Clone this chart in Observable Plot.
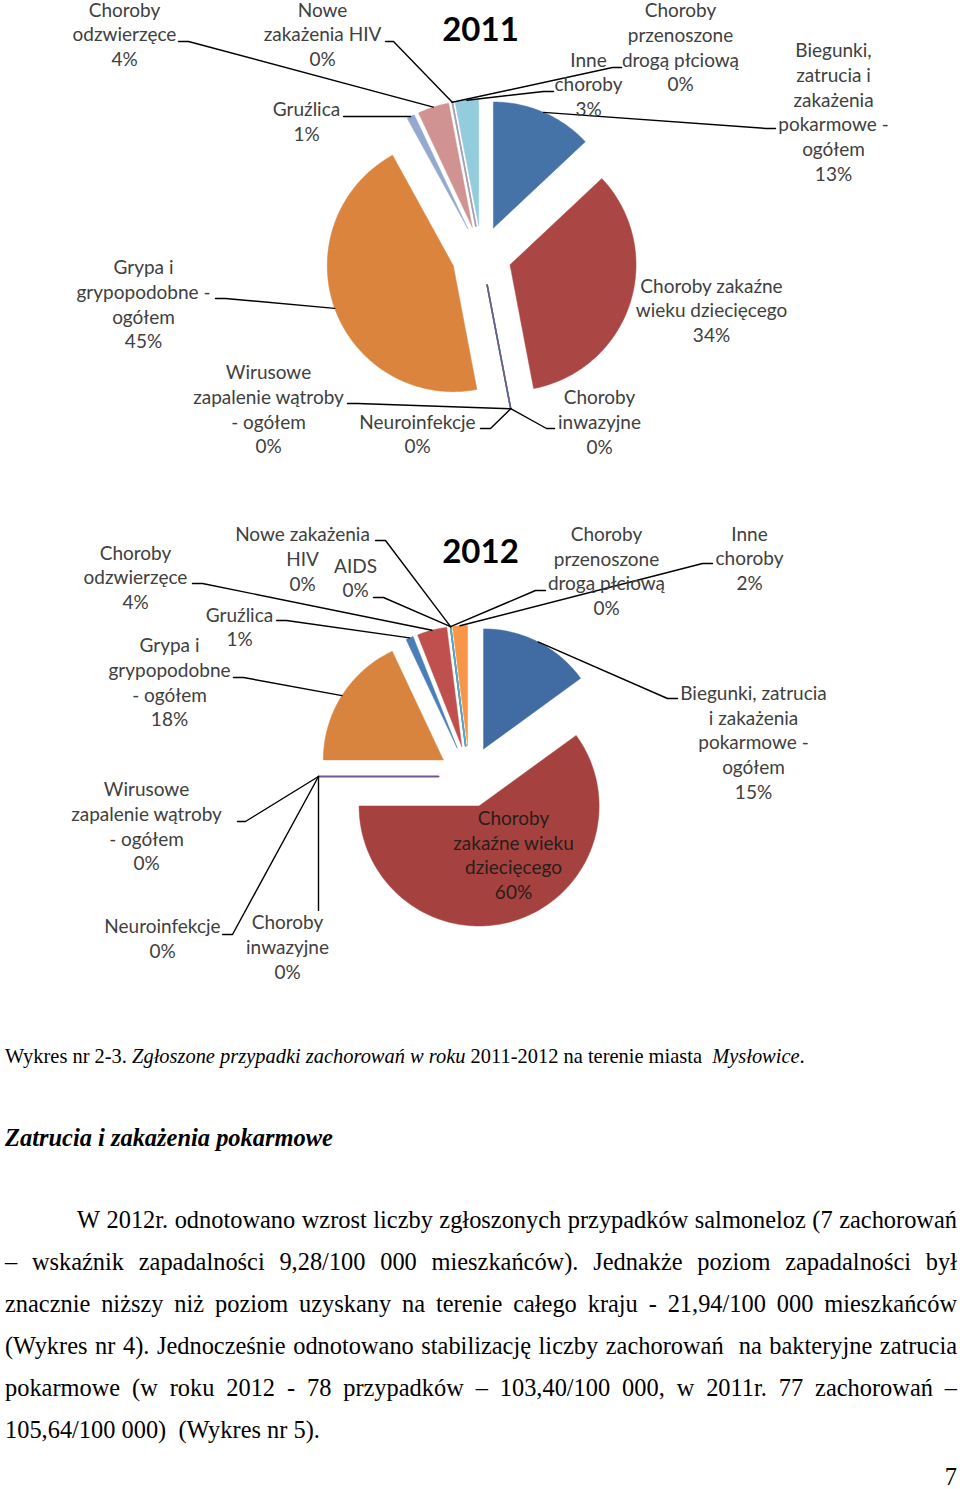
<!DOCTYPE html>
<html><head><meta charset="utf-8">
<script src="https://cdn.jsdelivr.net/npm/d3@7"></script>
<script src="https://cdn.jsdelivr.net/npm/@observablehq/plot@0.6"></script>
<style>
html,body{margin:0;padding:0;background:#fff;overflow:hidden;}
#page{position:relative;width:960px;height:1489px;}
#page svg{position:absolute;left:0;top:0;}
</style></head><body><div id="page"></div>
<script>
// ---------------- DATA ----------------
const years = ["2011", "2012"];
const categories2011 = [
  "Biegunki, zatrucia i zakażenia pokarmowe - ogółem",
  "Choroby zakaźne wieku dziecięcego",
  "Choroby inwazyjne",
  "Neuroinfekcje",
  "Wirusowe zapalenie wątroby - ogółem",
  "Grypa i grypopodobne - ogółem",
  "Gruźlica",
  "Choroby odzwierzęce",
  "Nowe zakażenia HIV",
  "Choroby przenoszone drogą płciową",
  "Inne choroby"
];
const values2011 = [13, 34, 0, 0, 0, 45, 1, 4, 0, 0, 3];
const categories2012 = [
  "Biegunki, zatrucia i zakażenia pokarmowe - ogółem",
  "Choroby zakaźne wieku dziecięcego",
  "Choroby inwazyjne",
  "Neuroinfekcje",
  "Wirusowe zapalenie wątroby - ogółem",
  "Grypa i grypopodobne - ogółem",
  "Gruźlica",
  "Choroby odzwierzęce",
  "Nowe zakażenia HIV",
  "AIDS",
  "Choroby przenoszone drogą płciową",
  "Inne choroby"
];
const values2012 = [15, 60, 0, 0, 0, 18, 1, 4, 0, 0, 0, 2];

const captionParts = [
  ["Wykres nr 2-3. ", "normal"],
  ["Zgłoszone przypadki zachorowań w roku", "italic"],
  [" 2011-2012 na terenie miasta  ", "normal"],
  ["Mysłowice", "italic"],
  [".", "normal"]
];
const headingText = "Zatrucia i zakażenia pokarmowe";
const paragraphLines = [
  "W 2012r. odnotowano wzrost liczby zgłoszonych przypadków salmoneloz (7 zachorowań",
  "– wskaźnik zapadalności 9,28/100 000 mieszkańców). Jednakże poziom zapadalności był",
  "znacznie niższy niż poziom uzyskany na terenie całego kraju - 21,94/100 000 mieszkańców",
  "(Wykres nr 4). Jednocześnie odnotowano stabilizację liczby zachorowań  na bakteryjne zatrucia",
  "pokarmowe (w roku 2012 - 78 przypadków – 103,40/100 000, w 2011r. 77 zachorowań –",
  "105,64/100 000)  (Wykres nr 5)."
];
const pageNumber = "7";

// ---------------- LAYOUT / STYLE ----------------
const palette2011 = ["#4572A7","#AA4643","#89A54E","#71588F","#4198AF","#DB843D","#93A9CF","#D19392","#B9CD96","#A99BBD","#93CDDD"];
const palette2012 = ["#416CA3","#A5423F","#89A54E","#71588F","#4198AF","#D8843E","#4A7EBB","#C0504D","#9BBB59","#8064A2","#4BACC6","#F79646"];
const geom = {
  "2011": {cx: 481, cy: 255, r: 126, explode: 30, title: [480, 30]},
  "2012": {cx: 469, cy: 776, r: 120, explode: 31, title: [480, 552]}
};
const labelWrap2011 = [
  ["Biegunki,","zatrucia i","zakażenia","pokarmowe -","ogółem"],
  ["Choroby zakaźne","wieku dziecięcego"],
  ["Choroby","inwazyjne"],
  ["Neuroinfekcje"],
  ["Wirusowe","zapalenie wątroby","- ogółem"],
  ["Grypa i","grypopodobne -","ogółem"],
  ["Gruźlica"],
  ["Choroby","odzwierzęce"],
  ["Nowe","zakażenia HIV"],
  ["Choroby","przenoszone","drogą płciową"],
  ["Inne","choroby"]
];
const labelAt2011 = [[833,112.5],[711,311],[599,422.5],[417,434.5],[268,410],[143,305],[306,122],[124,35],[322,35],[680,48],[588,85]];
const leader2011 = [[[775,128],[766,128]], null, [[554,428],[546,428]], [[480,428],[490,428]], [[347,403],[357,403]], [[215,298],[225,298]], [[343,116],[353,116]], [[178,41],[188,41]], [[385,41],[393,41]], [[621,67],[612,67]], [[553,91],[543,91]]];
const labelWrap2012 = [
  ["Biegunki, zatrucia","i zakażenia","pokarmowe -","ogółem"],
  ["Choroby","zakaźne wieku","dziecięcego"],
  ["Choroby","inwazyjne"],
  ["Neuroinfekcje"],
  ["Wirusowe","zapalenie wątroby","- ogółem"],
  ["Grypa i","grypopodobne","- ogółem"],
  ["Gruźlica"],
  ["Choroby","odzwierzęce"],
  ["Nowe zakażenia","HIV"],
  ["AIDS"],
  ["Choroby","przenoszone","drogą płciową"],
  ["Inne","choroby"]
];
const labelAt2012 = [[753,743],[513,855.5],[287,947.5],[162,939],[146,827],[169,683],[239,627.5],[135,578],[302,559.5],[355,578.5],[606,571.5],[749,559]];
const leader2012 = [[[677,698],[667,698]], null, [[318,910]], [[222,934],[232,934]], [[237,821],[245,821]], [[233,677],[243,677]], [[276,620],[286,620]], [[192,583],[202,583]], [[375,540],[385,540]], [[373,597],[383,597]], [[545,590],[535,590]], [[712,563],[702,563]]];

const pies = [
  {year: "2011", cats: categories2011, vals: values2011, pal: palette2011, wrap: labelWrap2011, at: labelAt2011, lead: leader2011, inside: -1},
  {year: "2012", cats: categories2012, vals: values2012, pal: palette2012, wrap: labelWrap2012, at: labelAt2012, lead: leader2012, inside: 1}
];

// ---------------- GEOMETRY ----------------
const sliceRows = [], zeroRows = [], zeroTopRows = [], leaderRows = [], labelRows = [], titleRows = [];
for (const p of pies) {
  const g = geom[p.year];
  const total = d3.sum(p.vals);
  let acc = 0;
  p.vals.forEach((v, i) => {
    const a0 = acc / total * 2 * Math.PI; acc += v;
    const a1 = acc / total * 2 * Math.PI;
    const mid = (a0 + a1) / 2;
    const ax = g.cx + g.explode * Math.sin(mid), ay = g.cy - g.explode * Math.cos(mid);
    const pt = a => [ax + g.r * Math.sin(a), ay - g.r * Math.cos(a)];
    const key = p.year + "-" + i;
    const color = p.pal[i];
    if (v === 0) {
      const target = p.cats[i] === "Neuroinfekcje" ? zeroTopRows : zeroRows;
      for (const q of [[ax, ay], pt(a0)]) target.push({key, x: q[0], y: q[1], color});
    } else {
      const n = Math.max(2, Math.ceil((a1 - a0) / (Math.PI / 180)));
      const pts = [[ax, ay]];
      for (let k = 0; k <= n; k++) pts.push(pt(a0 + (a1 - a0) * k / n));
      pts.push([ax, ay]);
      for (const q of pts) sliceRows.push({key, x: q[0], y: q[1], color});
    }
    const outer = pt(mid);
    const lead = p.lead[i];
    if (lead) {
      const path = [outer, ...lead.slice().reverse()];
      for (const q of path) leaderRows.push({key, x: q[0], y: q[1]});
    }
    labelRows.push({
      x: p.at[i][0], y: p.at[i][1],
      text: [...p.wrap[i], v + "%"].join("\n"),
      fill: i === p.inside ? "#2c1c1c" : "#404040"
    });
  });
  titleRows.push({x: g.title[0], y: g.title[1], text: p.year});
}

const chart = Plot.plot({
  width: 960, height: 1000, margin: 0,
  x: {domain: [0, 960], range: [0, 960], axis: null},
  y: {domain: [0, 1000], range: [0, 1000], axis: null},
  color: {type: "identity"},
  style: {background: "transparent", overflow: "visible"},
  marks: [
    Plot.line(sliceRows, {x: "x", y: "y", z: "key", fill: "color", stroke: "color", strokeWidth: 0.5}),
    Plot.line(zeroRows, {x: "x", y: "y", z: "key", stroke: "color", strokeWidth: 1.6}),
    Plot.line(zeroTopRows, {x: "x", y: "y", z: "key", stroke: "color", strokeWidth: 1.6}),
    Plot.line(leaderRows, {x: "x", y: "y", z: "key", stroke: "#000", strokeWidth: 1.4}),
    Plot.text(labelRows, {x: "x", y: "y", dy: -2, text: "text", fill: "fill", fontSize: 19, fontFamily: "Lato", lineHeight: 1.3, textAnchor: "middle", lineAnchor: "middle"}),
    Plot.text(titleRows, {x: "x", y: "y", text: "text", fill: "#000", fontSize: 33, fontWeight: "bold", fontFamily: "Lato"})
  ]
});
document.getElementById("page").appendChild(chart);

// ---------------- DOCUMENT TEXT ----------------
const ctx = document.createElement("canvas").getContext("2d");
const SERIF = '"Liberation Serif", "Times New Roman", serif';
function tw(text, size, style = "normal", weight = "normal") {
  ctx.font = `${style} ${weight} ${size}px ${SERIF}`;
  return ctx.measureText(text).width;
}
const svg = d3.select("#page").append("svg")
  .attr("width", 960).attr("height", 1489)
  .attr("font-family", SERIF).style("pointer-events", "none");

// caption
{
  const base = 20;
  const w = d3.sum(captionParts, d => tw(d[0], base, d[1]));
  const size = base * 800 / w;
  const t = svg.append("text").attr("x", 5).attr("y", 1063).attr("font-size", size)
    .attr("fill", "#000").style("white-space", "pre");
  for (const [s, st] of captionParts) t.append("tspan").attr("font-style", st).text(s);
}
// heading
{
  const base = 24;
  const w = tw(headingText, base, "italic", "bold");
  const size = base * 328 / w;
  svg.append("text").attr("x", 5).attr("y", 1146).attr("font-size", size)
    .attr("font-style", "italic").attr("font-weight", "bold").attr("fill", "#000").text(headingText);
}
// paragraph
{
  const last = paragraphLines[paragraphLines.length - 1];
  let size = 24 * 315 / tw(last, 24);
  size = Math.max(20, Math.min(26, size));
  const baselines = [1228, 1270, 1312, 1354, 1396, 1438];
  paragraphLines.forEach((line, li) => {
    const y = baselines[li];
    const x0 = li === 0 ? 77 : 5, x1 = 957;
    if (li === paragraphLines.length - 1) {
      svg.append("text").attr("x", x0).attr("y", y).attr("font-size", size)
        .attr("fill", "#000").style("white-space", "pre").text(line);
      return;
    }
    const words = line.split(" ");
    const widths = words.map(wd => tw(wd, size));
    const gap = (x1 - x0 - d3.sum(widths)) / (words.length - 1);
    let x = x0;
    words.forEach((wd, k) => {
      if (wd) svg.append("text").attr("x", x).attr("y", y).attr("font-size", size).attr("fill", "#000").text(wd);
      x += widths[k] + gap;
    });
  });
  svg.append("text").attr("x", 957).attr("y", 1485).attr("font-size", size)
    .attr("text-anchor", "end").attr("fill", "#000").text(pageNumber);
}
</script></body></html>
